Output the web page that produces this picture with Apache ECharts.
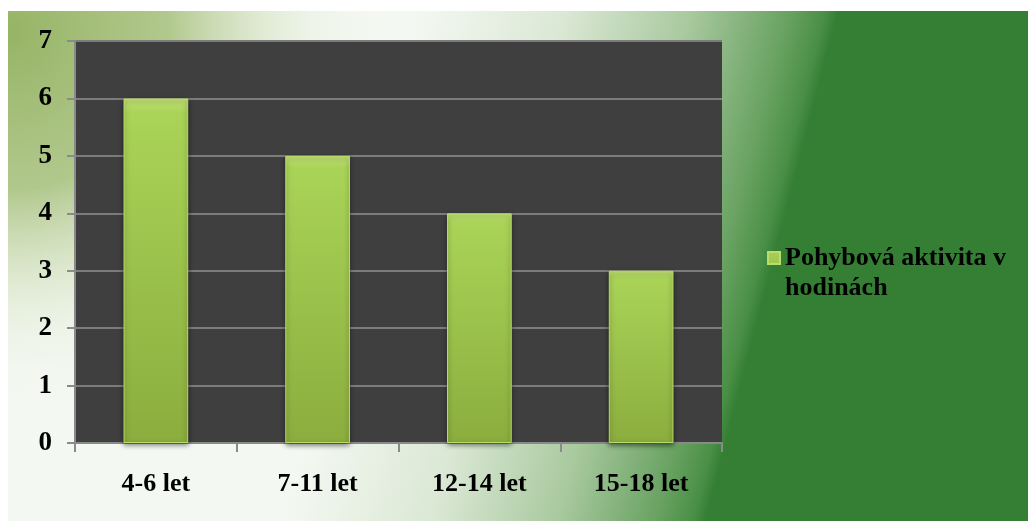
<!DOCTYPE html>
<html>
<head>
<meta charset="utf-8">
<script src="https://cdn.jsdelivr.net/npm/echarts@6/dist/echarts.min.js"></script>
<style>
  html, body { margin: 0; padding: 0; background: #fff; }
  #chart { width: 1028px; height: 521px; }
</style>
</head>
<body>
<div id="chart"></div>
<script>
// data
const categories = ['4-6 let', '7-11 let', '12-14 let', '15-18 let']
const hours = [6, 5, 4, 3]
const seriesName = 'Pohybová aktivita v hodinách'

const chart = echarts.init(document.getElementById('chart'))
const serif = 'Liberation Serif'

chart.setOption({
  animation: false,
  graphic: [
    {
      // slide background: white to dark green swoosh
      type: 'rect',
      z: -10,
      shape: { x: 8, y: 11, width: 1020, height: 510 },
      style: {
        fill: {
          type: 'linear', global: true,
          x: 380, y: 150, x2: 775, y2: 253,
          colorStops: [
            { offset: 0, color: '#f4f8f2' },
            { offset: 0.35, color: '#dbe8d5' },
            { offset: 0.65, color: '#a9c99f' },
            { offset: 0.88, color: '#6aa363' },
            { offset: 0.97, color: '#4a8f46' },
            { offset: 1, color: '#357f35' }
          ]
        }
      }
    },
    {
      // greenish glow top left
      type: 'rect',
      z: -9,
      shape: { x: 8, y: 11, width: 600, height: 510 },
      style: {
        fill: {
          type: 'radial', global: true,
          x: 8, y: 30, r: 400,
          colorStops: [
            { offset: 0, color: 'rgba(150,180,100,1)' },
            { offset: 0.4, color: 'rgba(160,188,115,0.8)' },
            { offset: 0.75, color: 'rgba(220,232,205,0.3)' },
            { offset: 1, color: 'rgba(255,255,255,0)' }
          ]
        }
      }
    }
  ],
  grid: {
    left: 75,
    right: 306,
    top: 41,
    bottom: 78,
    show: true,
    backgroundColor: '#3f3f3f',
    borderWidth: 0
  },
  legend: {
    data: [seriesName],
    orient: 'vertical',
    left: 767,
    top: 242,
    padding: 0,
    // square sits next to the first text line
    icon: 'path://M0,9h12v12h-12z M0,0h0.01 M0,60h0.01',
    itemWidth: 12,
    itemHeight: 60,
    itemGap: 6,
    formatter: () => 'Pohybová aktivita v\nhodinách',
    textStyle: {
      fontFamily: serif,
      fontWeight: 'bold',
      fontSize: 26,
      lineHeight: 30,
      color: '#000'
    }
  },
  xAxis: {
    type: 'category',
    data: categories,
    axisLine: { lineStyle: { color: '#8a8a8a', width: 2 } },
    axisTick: { show: true, length: 9, lineStyle: { color: '#8a8a8a', width: 2 } },
    axisLabel: {
      margin: 28,
      fontFamily: serif,
      fontWeight: 'bold',
      fontSize: 26,
      color: '#000'
    }
  },
  yAxis: {
    type: 'value',
    min: 0,
    max: 7,
    interval: 1,
    axisLine: { show: true, lineStyle: { color: '#8a8a8a', width: 2 } },
    axisTick: { show: true, length: 8, lineStyle: { color: '#8a8a8a', width: 2 } },
    splitLine: { lineStyle: { color: '#7c7c7c', width: 2 } },
    axisLabel: {
      margin: 23,
      fontFamily: serif,
      fontWeight: 'bold',
      fontSize: 27,
      color: '#000'
    }
  },
  series: [
    {
      name: seriesName,
      type: 'bar',
      data: hours,
      barWidth: '40%',
      itemStyle: {
        color: {
          type: 'linear', x: 0, y: 0, x2: 0, y2: 1,
          colorStops: [
            { offset: 0, color: '#c4e27a' },
            { offset: 0.04, color: '#a9d457' },
            { offset: 1, color: '#8bad3e' }
          ]
        },
        borderColor: '#b9dc6a',
        borderWidth: 1,
        shadowColor: 'rgba(0,0,0,0.5)',
        shadowBlur: 5,
        shadowOffsetY: 2
      }
    }
  ]
})
</script>
</body>
</html>
